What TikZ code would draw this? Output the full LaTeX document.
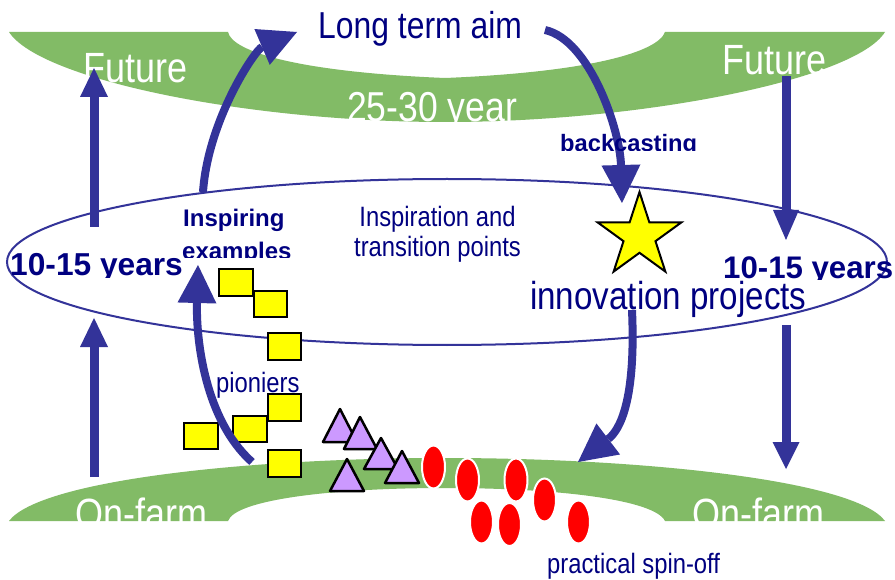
\documentclass[tikz,border=0pt]{standalone}
\usepackage{fontspec}
\setmainfont{Liberation Sans}
\newfontfamily\narrowfont{Liberation Sans}[FakeStretch=0.85]
\usetikzlibrary{arrows.meta,shapes.geometric}
\definecolor{bandgreen}{RGB}{130,187,102}
\definecolor{arrowblue}{RGB}{51,51,153}
\definecolor{navytext}{RGB}{0,0,128}
\definecolor{lavender}{RGB}{204,153,255}
\definecolor{sqyellow}{RGB}{255,255,0}
\definecolor{spinred}{RGB}{255,0,0}
\newcommand\txtsize[1]{\fontsize{#1}{#1}\selectfont}
\begin{document}
\begin{tikzpicture}[x=1pt,y=-1pt,
  band/.style={fill=bandgreen, draw=none},
  bandtxt/.style={inner sep=0pt, anchor=base west, text=white, font=\narrowfont\txtsize{42.3}},
  navytxt/.style={inner sep=0pt, anchor=base west, text=navytext},
  boldtxt/.style={inner sep=0pt, anchor=base west, text=navytext, text depth=0pt, font=\bfseries\txtsize{#1}},
  smalltxt/.style={inner sep=0pt, text=navytext, font=\narrowfont\txtsize{28}},
  vertarrow/.style={draw=arrowblue, line width=9pt, -{Triangle[length=29pt,width=28pt,line width=0pt]}},
  curvarrow/.style={draw=arrowblue, line width=8pt, -{Triangle[length=38pt,width=39pt,line width=0pt]}},
  sqbox/.style={draw=black, line width=2.5pt, fill=sqyellow},
  tri/.style={draw=black, line width=2.5pt, fill=lavender, line join=round},
  spin/.style={draw=white, line width=2pt, fill=spinred}]
\useasboundingbox (0,0) rectangle (895,580);
\fill[white] (0,0) rectangle (895,580);
% green bands
\path[band] (9,32) -- (228,32) .. controls (232,52) and (300,72) .. (445,78)
  .. controls (590,72) and (658,52) .. (665,32) -- (885,32)
  .. controls (855,80) and (640,122) .. (445,122)
  .. controls (250,122) and (40,80) .. (9,32) -- cycle;
\path[band] (9,521) .. controls (40,480) and (250,458) .. (445,458)
  .. controls (640,458) and (855,480) .. (885,521) -- (665,521)
  .. controls (655,500) and (560,488) .. (445,488)
  .. controls (330,488) and (235,500) .. (228,521) -- cycle;
% white band labels
\node[bandtxt] (futL) at (83,83) {Future};
\node[bandtxt] (futR) at (722,75) {Future};
\node[bandtxt, font=\narrowfont\txtsize{41.8}] (yrs) at (347,122) {25-30 year};
\node[bandtxt] (farmL) at (75,528) {On-farm};
\node[bandtxt] (farmR) at (692,528) {On-farm};
% middle ellipse
\draw[arrowblue, line width=2pt] (447,262) ellipse [x radius=440pt, y radius=83pt];
% straight arrows
\coordinate (a1s) at (94,227); \coordinate (a1e) at (94,68);
\coordinate (a2s) at (94,477); \coordinate (a2e) at (94,318);
\coordinate (a3s) at (786,76); \coordinate (a3e) at (786,240);
\coordinate (a4s) at (786,325); \coordinate (a4e) at (786,469);
\draw[vertarrow] (a1s) -- (a1e);
\draw[vertarrow] (a2s) -- (a2e);
\draw[vertarrow, -{Triangle[length=30pt,width=26pt,line width=0pt]}] (a3s) -- (a3e);
\draw[vertarrow, -{Triangle[length=27pt,width=27pt,line width=0pt]}] (a4s) -- (a4e);
% squares (pioniers)
\draw[sqbox] (219,269) rectangle (253,296);
\draw[sqbox] (254,291) rectangle (287,317);
\draw[sqbox] (268,333) rectangle (301,360);
\draw[sqbox] (268,394) rectangle (301,421);
\draw[sqbox] (233,416) rectangle (267,442);
\draw[sqbox] (184,423) rectangle (218,449);
\draw[sqbox] (268,450) rectangle (301,477);
% triangles
\draw[tri] (340,409) -- (323,442) -- (357,442) -- cycle;
\draw[tri] (360,417) -- (344,449) -- (377,449) -- cycle;
\draw[tri] (381,438) -- (364,469) -- (398,469) -- cycle;
\draw[tri] (402,451) -- (385,483) -- (419,483) -- cycle;
\draw[tri] (347,459) -- (330,491) -- (364,491) -- cycle;
% practical spin-off ellipses
\draw[spin] (433.5,467) ellipse [x radius=11.5pt, y radius=21.5pt];
\draw[spin] (467.5,480) ellipse [x radius=11.5pt, y radius=21.5pt];
\draw[spin] (516,480) ellipse [x radius=11.5pt, y radius=21.5pt];
\draw[spin] (544.5,500) ellipse [x radius=11.5pt, y radius=21.5pt];
\draw[spin] (481.5,522) ellipse [x radius=11.5pt, y radius=21.5pt];
\draw[spin] (509.5,524.5) ellipse [x radius=11.5pt, y radius=21.5pt];
\draw[spin] (578.5,522) ellipse [x radius=11.5pt, y radius=21.5pt];
% star
\node[star, star points=5, star point ratio=2.618, minimum size=88pt, inner sep=0pt,
      draw=black, line width=2pt, fill=sqyellow] (star) at (639.5,236) {};
% curved arrows
\coordinate (cAs) at (203,192); \coordinate (cAe) at (297,32);
\coordinate (cBs) at (545,30);  \coordinate (cBe) at (622,203);
\coordinate (cCs) at (632,310); \coordinate (cCe) at (578,462);
\coordinate (cDs) at (252,462); \coordinate (cDe) at (198,265);
\draw[curvarrow] (cAs) .. controls (208,120) and (255,50) .. (cAe);
\draw[curvarrow] (cBs) .. controls (590,40) and (620,130) .. (cBe);
\draw[curvarrow] (cCs) .. controls (636,400) and (620,430) .. (cCe);
\draw[curvarrow] (cDs) .. controls (205,420) and (196,340) .. (cDe);
% navy texts
\node[navytxt, font=\narrowfont\txtsize{37.5}] (aim) at (318,39) {Long term aim};
\begin{scope}
  \clip (540,120) rectangle (720,151);
  \node[boldtxt=23.7] (back) at (560,152) {backcasting};
\end{scope}
\begin{scope}
  \clip (170,195) rectangle (300,258);
  \node[boldtxt=24] (insp1) at (183,226.5) {Inspiring};
  \node[boldtxt=24] (insp2) at (182,259.5) {examples};
\end{scope}
\begin{scope}
  \clip (0,240) rectangle (200,277.3);
  \node[boldtxt=31.7] (tenL) at (10,275.7) {10-15 years};
\end{scope}
\begin{scope}
  \clip (700,240) rectangle (895,279.3);
  \node[boldtxt=31.2] (tenR) at (723,279) {10-15 years};
\end{scope}
\node[smalltxt, anchor=base] (trans1) at (437.5,226.7) {Inspiration and};
\node[smalltxt, anchor=base] (trans2) at (437.5,256.7) {transition points};
\node[navytxt, font=\narrowfont\txtsize{39}, text height=27pt] (innov) at (530,310) {innovation projects};
\node[smalltxt, anchor=base west] (pion) at (216,392) {pioniers};
\node[smalltxt, anchor=base west] (spinoff) at (547,573) {practical spin-off};
\end{tikzpicture}
\end{document}
